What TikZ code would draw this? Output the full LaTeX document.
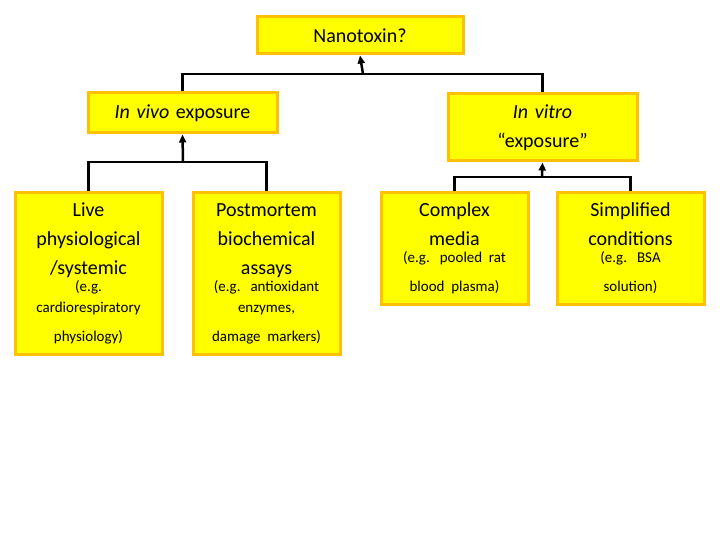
\documentclass[tikz,border=0pt]{standalone}
\usepackage{fontspec}
\setmainfont{Carlito}
\usetikzlibrary{arrows.meta}
\definecolor{boxfill}{HTML}{FFFF00}
\definecolor{boxline}{HTML}{FFC000}
\begin{document}
\begin{tikzpicture}[x=1pt,y=-1pt,
 box/.style={draw=boxline,fill=boxfill,line width=3pt,inner sep=0pt,align=center,font=\fontsize{20}{29}\selectfont},
 conn/.style={line width=2.5pt,-{Triangle[length=8pt,width=7pt]}},
 bus/.style={line width=2.5pt}]
\useasboundingbox (0,0) rectangle (720,540);
\def\bx#1#2#3#4#5#6{\node[box,minimum width=#4-#2,minimum height=#5-#3,text width=#4-#2-4] (#1) at ({(#2+#4)/2},{(#3+#5)/2}) {#6};}
\bx{top}{257}{17}{463}{54}{Nanotoxin?}
\bx{vivo}{88}{93}{277}{133}{\textit{In vivo} exposure}
\bx{vitro}{448}{94}{637}{161}{\textit{In vitro}\\“exposure”}
\bx{live}{15}{193}{162}{354}{Live\\physiological\\/systemic\\[-4pt]{\fontsize{15}{21}\selectfont (e.g.\\cardiorespiratory\\physiology)}}
\bx{post}{193}{193}{340}{354}{Postmortem\\biochemical\\assays\\[-4pt]{\fontsize{15}{21}\selectfont (e.g. antioxidant\\enzymes,\\damage markers)}}
\bx{cplx}{381}{193}{528}{304}{Complex\\media\\[-4pt]{\fontsize{15}{21}\selectfont (e.g. pooled rat\\blood plasma)}}
\bx{simp}{557}{193}{704}{304}{Simplified\\conditions\\[-4pt]{\fontsize{15}{21}\selectfont (e.g. BSA\\solution)}}
\coordinate (b1) at (363,74);
\coordinate (b2) at (183,162);
\coordinate (b3) at (542,177);
\draw[bus] (vivo.north) |- (b1) -| (vitro.north);
\draw[conn] (b1) -- (top.south);
\draw[bus] (live.north) |- (b2) -| (post.north);
\draw[conn] (b2) -- (vivo.south);
\draw[bus] (cplx.north) |- (b3) -| (simp.north);
\draw[conn] (b3) -- (vitro.south);
\end{tikzpicture}
\end{document}
